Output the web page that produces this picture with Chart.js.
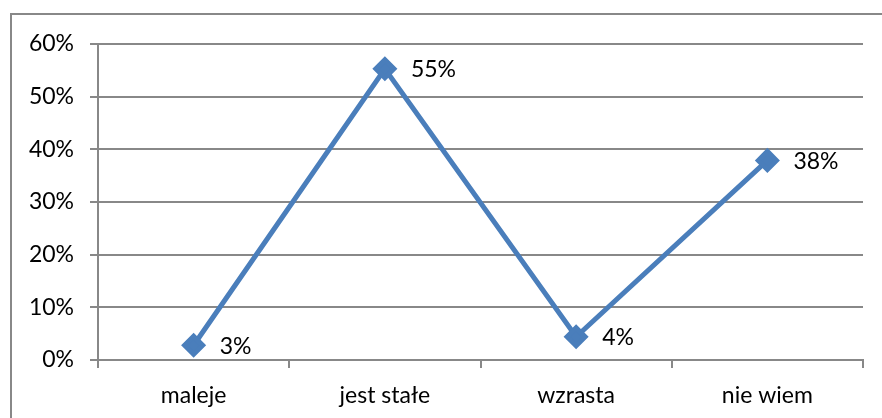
<!DOCTYPE html>
<html lang="pl">
<head>
  <meta charset="UTF-8">
  <title>Wykres</title>
  <script src="https://cdn.jsdelivr.net/npm/chart.js"></script>
  <style>
    html, body { margin: 0; padding: 0; background: #fff; }
    #wrap { width: 882px; height: 418px; position: relative; }
  </style>
</head>
<body>
  <div id="wrap"><canvas id="chart" width="882" height="418"></canvas></div>
  <script>
    const categories = ['maleje', 'jest stałe', 'wzrasta', 'nie wiem'];
    const values = [2.8, 55.3, 4.4, 37.9];
    const yTicks = [0, 10, 20, 30, 40, 50, 60];

    const gray = '#888888';
    const blue = '#4a7ebb';
    const font = "Lato, 'Open Sans', sans-serif";

    // ramka wykresu
    const frame = {
      id: 'frame',
      beforeDraw(chart) {
        const ctx = chart.ctx;
        ctx.save();
        ctx.strokeStyle = gray;
        ctx.lineWidth = 2;
        ctx.strokeRect(11, 14, 1000, 1000);
        ctx.restore();
      }
    };

    // etykiety danych po prawej od punktu
    const labels = {
      id: 'labels',
      afterDatasetsDraw(chart) {
        const ctx = chart.ctx;
        const meta = chart.getDatasetMeta(0);
        ctx.save();
        ctx.font = '23px ' + font;
        ctx.fillStyle = '#000';
        ctx.textAlign = 'left';
        ctx.textBaseline = 'middle';
        meta.data.forEach((pt, i) => {
          ctx.fillText(Math.round(values[i]) + '%', pt.x + 26, pt.y + 1);
        });
        ctx.restore();
      }
    };

    new Chart(document.getElementById('chart'), {
      type: 'line',
      data: {
        labels: categories,
        datasets: [{
          data: values,
          borderColor: blue,
          backgroundColor: blue,
          borderWidth: 5,
          pointStyle: 'rectRot',
          pointRadius: 9,
          pointHoverRadius: 9,
          tension: 0
        }]
      },
      options: {
        responsive: false,
        animation: false,
        layout: { padding: { top: 44, right: 19, left: 0, bottom: 0 } },
        plugins: { legend: { display: false }, tooltip: { enabled: false } },
        scales: {
          x: {
            offset: true,
            grid: { offset: true, drawOnChartArea: false, color: gray, lineWidth: 2, tickLength: 8 },
            border: { color: gray, width: 2 },
            ticks: { color: '#000', font: { family: font, size: 23 }, padding: 14 },
            afterFit(scale) { scale.height = 58; }
          },
          y: {
            min: 0,
            max: 60,
            afterBuildTicks(scale) { scale.ticks = yTicks.map(v => ({ value: v })); },
            grid: { color: gray, lineWidth: 2, tickLength: 8 },
            border: { color: gray, width: 2 },
            ticks: { color: '#000', font: { family: font, size: 23 }, padding: 16, callback: v => v + '%' },
            afterFit(scale) { scale.width = 98; }
          }
        }
      },
      plugins: [frame, labels]
    });
  </script>
</body>
</html>
